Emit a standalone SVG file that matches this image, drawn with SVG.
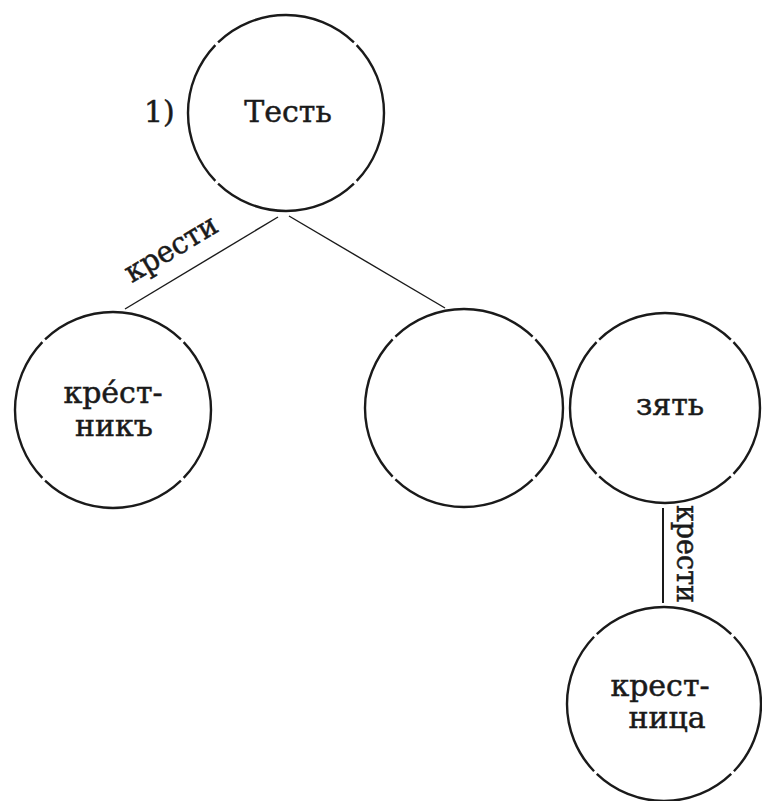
<svg xmlns="http://www.w3.org/2000/svg" width="762" height="801" viewBox="0 0 762 801">
<style>
.node circle{fill:none;stroke:#1a1a1a;stroke-width:2.4;stroke-dasharray:97.5 2.5;stroke-dashoffset:48.75}
text{font-family:"DejaVu Serif","Liberation Serif",serif;font-size:30px;fill:#1a1a1a;stroke:#1a1a1a;stroke-width:0.5}
.c{text-anchor:middle}
#connectors line{stroke:#1a1a1a;stroke-width:1.4}
</style>
<rect width="762" height="801" fill="#ffffff"/>
<g id="connectors">
<line x1="278" y1="217" x2="125" y2="309"/>
<line x1="289" y1="216" x2="445" y2="308"/>
<line x1="663" y1="508" x2="663" y2="603" style="stroke-width:2"/>
<text class="c" transform="translate(176,257) rotate(-30.7)" textLength="103" lengthAdjust="spacingAndGlyphs">крести</text>
<text class="c" transform="translate(677,554) rotate(90)" textLength="98" lengthAdjust="spacingAndGlyphs">крести</text>
</g>
<text x="144" y="122">1)</text>
<g id="n-test" class="node">
<circle cx="286" cy="113" r="98" pathLength="400"/>
<text class="c" x="288" y="122">Тесть</text>
</g>
<g id="n-krestnik" class="node">
<circle cx="113" cy="410" r="98" pathLength="400"/>
<text class="c" x="113" y="403">кре́ст-</text>
<text class="c" x="114" y="436">никъ</text>
</g>
<g id="n-middle" class="node">
<circle cx="464" cy="408" r="99" pathLength="400"/>
</g>
<g id="n-zyat" class="node">
<circle cx="665" cy="408" r="95" pathLength="400"/>
<text class="c" x="670" y="415">зять</text>
</g>
<g id="n-krestnitsa" class="node">
<circle cx="664" cy="704" r="97" pathLength="400"/>
<text class="c" x="660" y="696">крест-</text>
<text class="c" x="667" y="728">ница</text>
</g>
</svg>
